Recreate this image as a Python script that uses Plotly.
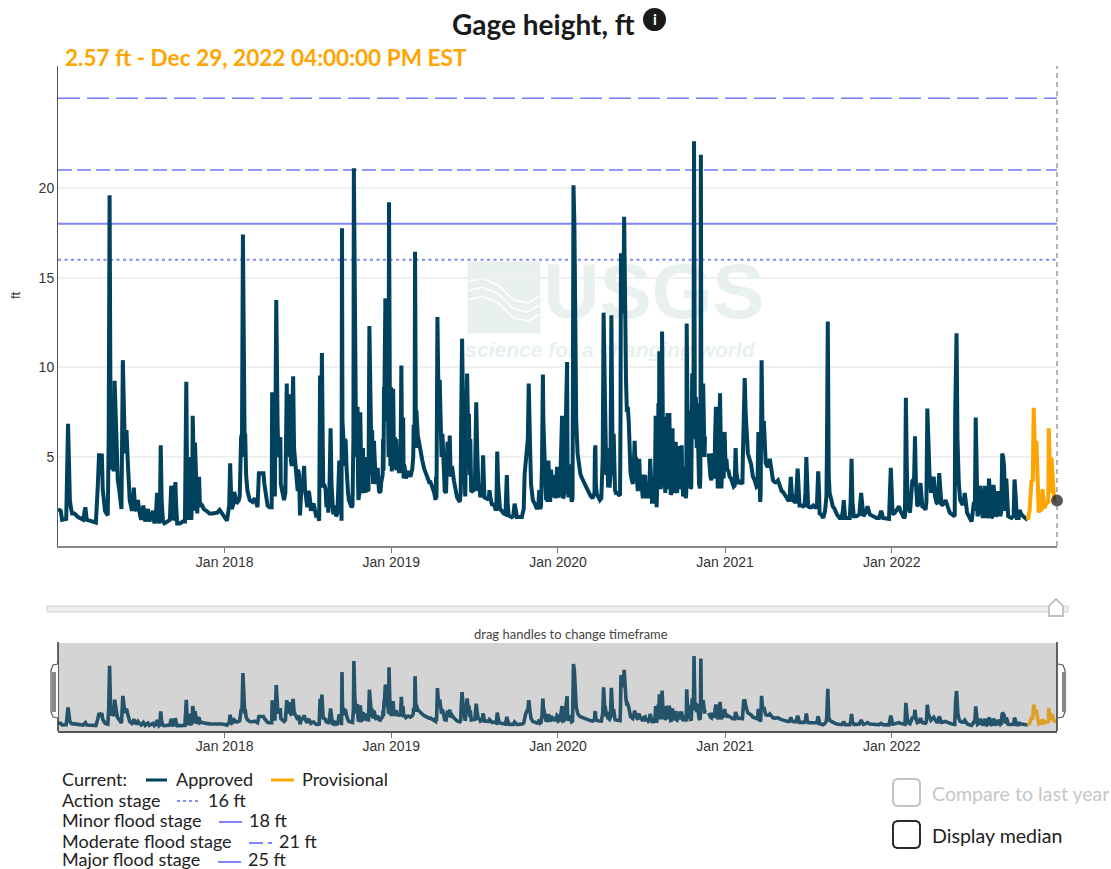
import pandas as pd
import plotly.graph_objects as go

W, H = 1111, 869
START = pd.Timestamp("2017-01-01")

days_a = [0,6,9,18,22,26,31,36,44,55,60,63,73,83,87,90,96,100,106,109,111,113,115,118,124,128,131,139,142,146,152,157,162,166,169,175,182,187,191,197,200,208,211,217,221,225,230,233,241,248,252,257,261,273,281,286,292,295,300,305,309,313,319,332,343,354,365,370,377,381,386,391,401,405,410,415,426]
ft_a = [2.1,2.0,1.5,1.55,6.85,2.6,1.85,1.85,1.65,1.5,2.2,1.5,1.45,1.35,3.3,5.2,5.2,2.6,1.85,1.75,6.1,19.6,7.4,4.3,9.25,5.5,3.7,2.1,10.4,5.9,5.2,2.6,2.0,3.3,2.1,2.6,1.5,2.3,1.4,2.1,1.4,2.0,1.3,3.0,1.3,5.65,1.4,1.3,1.4,3.4,1.5,3.6,1.3,1.4,9.2,1.5,1.5,7.3,5.8,1.85,3.9,2.4,2.1,1.85,1.85,2.05,1.65,1.45,4.65,2.1,3.05,2.4,6.1,17.4,6.3,3.1,2.5]

days_b = [437,440,450,455,459,468,469,473,475,478,481,487,488,495,501,506,510,515,519,523,528,530,534,539,543,550,554,565,572,574,578,581,590,592,597,601,612,616,621,622,625,630,635,643,648,651,656,658,662,667,670,678,682,685,692,696,703,713,714,717,721,725,729,734,738,743,750,752,756,758,765,776,779,782,785,794,802,816,827,828,831,836,842,847,853,858,867]
ft_b = [2.2,4.1,4.1,2.95,2.3,2.2,8.5,8.5,2.8,13.75,6.7,6.1,3.5,2.6,9.1,8.5,4.8,9.5,4.8,3.3,4.0,1.75,3.7,4.5,2.6,3.0,2.0,1.75,1.45,9.55,10.8,3.3,2.8,1.9,6.6,2.0,1.85,4.8,1.45,17.75,6.1,5.9,3.1,2.2,21.1,8.1,7.8,2.6,7.5,3.1,4.8,3.1,12.3,6.7,5.9,3.5,3.1,4.25,8.9,13.85,8.9,19.2,8.9,8.8,6.1,4.25,4.1,10.1,7.2,4.6,4.1,4.35,6.8,16.45,7.6,5.55,4.35,3.6,2.6,3.9,12.8,9.3,6.3,3.1,5.85,6.2,3.7]

days_c = [874,880,885,889,891,896,900,905,910,916,919,925,931,934,943,945,951,958,962,966,976,983,987,994,1000,1005,1013,1020,1022,1027,1031,1034,1038,1049,1054,1058,1062,1065,1069,1074,1080,1084,1093,1096,1104,1107,1111,1115,1118,1125,1129,1133,1138,1144,1155,1166,1171,1177,1180,1187,1195,1199,1204,1208,1212,1217,1220,1231,1233,1236,1240,1244,1248,1252,1257,1263,1268,1273,1279,1286,1293,1297,1304,1309]
ft_c = [2.75,2.5,11.6,7.4,3.5,9.65,7.4,3.05,3.2,8.05,3.3,2.75,5.1,2.75,2.6,3.15,2.3,2.1,5.3,2.2,1.85,4.0,1.75,1.65,2.4,1.65,1.65,2.1,4.05,5.9,9.1,5.5,2.75,2.1,3.15,2.3,9.6,5.5,2.6,4.8,4.3,2.75,4.45,2.75,7.3,2.75,5.55,10.3,2.75,2.5,20.15,10.65,5.2,4.05,3.4,2.85,2.7,5.65,2.95,2.6,13.05,6.7,4.0,3.3,12.9,6.3,3.15,2.85,16.25,16.25,18.4,9.3,7.8,4.6,3.7,5.9,3.7,4.9,3.2,4.0,2.7,4.9,2.5,7.3]

days_d = [1311,1313,1317,1323,1328,1331,1335,1339,1342,1346,1350,1353,1356,1362,1366,1369,1375,1377,1382,1385,1389,1393,1397,1402,1406,1408,1413,1417,1421,1425,1429,1433,1436,1441,1445,1450,1453,1460,1464,1471,1480,1484,1490,1499,1502,1504,1508,1515,1522,1530,1534,1538,1541,1546,1550,1559,1566,1577,1588,1599,1605,1610,1620,1624,1632,1639,1643,1654,1665,1668,1676,1683,1686,1690,1697,1712,1721,1724,1734,1738,1743]
ft_d = [2.2,7.05,10.9,12.0,7.25,3.7,7.45,7.45,2.9,6.6,3.0,5.85,3.0,5.6,5.65,2.8,2.7,12.45,7.6,3.25,9.65,22.6,8.35,4.65,3.25,21.85,9.1,6.15,None,5.2,3.9,5.2,3.8,7.8,3.25,8.55,3.25,6.4,4.9,3.9,3.35,5.5,3.5,3.5,9.3,9.4,6.15,4.85,3.9,3.35,6.4,2.5,10.4,7.0,4.65,4.9,3.7,3.7,3.05,2.6,3.9,2.6,4.35,2.3,2.25,5.0,2.25,2.3,4.2,1.85,1.6,2.8,12.55,3.0,2.25,1.6,2.6,1.6,1.6,4.9,1.7]

days_e = [1749,1759,1764,1773,1778,1793,1803,1807,1820,1824,1828,1836,1842,1847,1853,1857,1861,1866,1871,1877,1882,1889,1893,1900,1904,1909,1918,1924,1930,1935,1944,1953,1964,1965,1968,1971,1976,1986,1991,2001,2006,2010,2014,2020,2025,2030,2035,2039,2044,2049,2054,2059,2064,2068,2072,2077,2081,2088,2095,2100,2106,2113,2124]
ft_e = [1.7,3.0,1.7,2.25,1.8,1.6,2.0,1.6,1.55,4.4,1.8,2.05,2.25,1.9,1.6,8.3,2.25,1.9,3.65,6.15,2.25,3.55,2.25,2.05,7.7,3.9,3.9,2.45,4.1,2.3,2.6,1.9,1.7,7.35,11.9,4.85,2.6,3.0,1.9,1.4,2.5,7.2,1.7,3.4,1.7,3.4,1.6,3.8,1.6,3.45,1.7,3.1,1.7,5.2,4.5,3.8,1.7,1.6,3.75,1.6,2.05,1.7,1.5]

# further readings of the same record, inside the crowded stretches and on the recessions
more_2017 = [(24,3.4),(28,2.2),(88,4.5),(93,4.0),(98,3.2),(103,2.0),(117,5),(120,6.5),(122,4.2),(126,7),(130,4),(134,3.2),(136,2.5),(144,7),(148,5.2),(150,6.5),(154,4),(156,3),(164,2.3),(172,2.0),(178,2.0),(194,1.8),(204,1.7),(214,1.6),(219,1.6),(223,1.6),(227,2.6),(236,1.35),(245,1.5),(250,2.2),(255,1.6),(259,2.2),(267,1.3),(278,1.4),(283,3),(288,5),(290,2),(294,3),(297,5),(299,2),(302,4.5),(304,2.5),(307,3.5),(311,2.2),(316,2.3),(325,2.0),(338,1.85),(349,1.9),(360,1.8),(375,2.3),(379,3),(384,2.4),(389,2.7),(396,2.6),(398,2.8),(403,6.3),(407,6),(409,5),(412,4),(417,2.9),(420,2.6),(431,2.7)]
more_2018 = [(445,4.1),(452,3.5),(463,2.2),(483,5),(485,6),(491,3),(498,3),(503,5),(504,7.5),(508,5.5),(509,7),(512,4.5),(513,7.5),(517,5.5),(521,3.8),(525,3.1),(526,4.3),(532,2.5),(536,3.3),(541,3.2),(546,2.2),(548,3.1),(552,2.6),(557,2.3),(560,2.4),(569,1.8),(576,5),(580,5.5),(583,3.5),(586,3.2),(588,2.2),(594,2.5),(599,3.5),(603,1.8),(606,2.3),(609,1.7),(614,3.1),(618,2),(620,4.8),(623,7),(627,4.5),(629,6),(632,4.4),(633,3.6),(637,2.6),(640,2.4),(645,2.3),(647,6),(650,10),(653,5),(654,7.5),(657,4),(660,3),(661,7.2),(664,4.5),(666,3),(668,5.5),(669,3.5),(672,3),(674,5),(676,3.2),(680,3.1),(684,7.5),(687,4),(688,6.5),(690,3.5),(694,5),(698,3.6),(700,4.4),(706,3),(708,3.6),(711,4),(712,6),(715,8.8),(718,7),(719,8),(722,9),(724,5),(727,7),(728,4.5),(731,4.2),(733,6),(736,4.8),(740,4.3),(741,6),(745,5),(747,4.1),(748,5),(754,4.2),(755,5),(757,3.8),(760,4.3),(762,3.8),(768,4.2),(772,3.9),(778,5),(781,6),(784,5.5),(788,6.2),(791,5.7),(798,4.8),(805,4.1),(810,3.8),(813,3.6),(820,3.3),(824,3),(829,2.7),(834,7),(838,7),(840,5),(844,4.5),(845,3.7),(850,3),(851,5.3),(855,4),(856,5.8),(860,3.9),(863,4.5),(870,3.2)]
more_2019 = [(882,3),(883,7),(887,7.9),(888,6),(892,2.8),(894,6),(898,7),(899,5),(902,4),(903,6),(907,3.1),(913,3.2),(914,5),(918,5.5),(921,3.1),(923,3.5),(927,3),(929,2.9),(933,3.6),(937,2.7),(940,2.7),(948,2.6),(954,2.4),(956,2.2),(960,2.1),(964,3.5),(968,2.1),(972,2),(980,1.8),(985,2.4),(990,1.7),(997,1.7),(1003,2),(1008,1.65),(1016,1.65),(1018,1.9),(1024,4.8),(1029,6),(1032,7),(1036,3.5),(1040,2.6),(1044,2.4),(1052,2.3),(1056,2.1),(1060,4.5),(1063,7),(1067,4),(1071,3),(1072,2.5),(1076,3.2),(1078,2.5),(1082,3.1),(1086,4),(1088,3),(1090,2.7),(1095,4.2),(1099,3),(1101,4.5),(1102,5.5),(1105,4),(1106,2.7),(1109,3),(1113,6),(1116,4.8),(1119,4.6),(1120,3),(1122,4),(1127,2.7),(1128,9),(1131,18),(1135,7),(1140,4.6),(1148,3.8),(1152,3.6),(1160,3.1),(1175,3),(1176,5.4),(1178,3.5),(1183,2.8),(1190,2.7),(1193,5),(1197,7.5),(1201,4),(1202,5.5),(1205,3.3),(1206,3.6),(1210,4),(1214,7),(1215,4),(1218,4.5),(1222,3),(1225,3),(1228,2.9),(1232,7),(1238,13),(1242,11),(1246,7.5),(1250,7),(1254,4.1),(1259,3.5),(1261,4.5),(1265,4.2),(1266,5),(1270,3.1),(1271,4.6),(1275,3.6),(1277,4),(1281,2.7),(1283,3.8),(1288,2.7),(1290,3.6),(1295,3),(1299,3.4),(1301,2.5),(1306,3.5),(1307,2.4)]
more_2020 = [(1312,3),(1314,3.5),(1315,8),(1316,3.2),(1318,5),(1319,10),(1320,3.2),(1321,9),(1322,3.5),(1325,8),(1326,3.3),(1329,6),(1330,3),(1332,6.5),(1333,3.2),(1336,3.6),(1337,7),(1338,3.4),(1340,5),(1344,3),(1345,5),(1347,3),(1348,5.5),(1351,4),(1352,3),(1354,3.2),(1358,3.8),(1359,3.2),(1360,5),(1364,3.2),(1367,4),(1371,3.2),(1373,4.5),(1376,3),(1379,6.5),(1380,3.5),(1383,4.5),(1387,3.3),(1388,5),(1391,8),(1392,9.5),(1394,10),(1395,6),(1399,5.5),(1400,8),(1404,3.5),(1407,4),(1409,8),(1411,8.5),(1415,6.5),(1416,5),(1427,4.1),(1431,3.7),(1435,4.5),(1438,3.8),(1439,6),(1443,5.5),(1444,3.3),(1447,4.3),(1448,7),(1452,5),(1455,4.6),(1458,3.8),(1462,4.5),(1466,4.2),(1468,4.3),(1474,3.8),(1477,3.5),(1482,3.4),(1486,4.1),(1488,3.7),(1493,3.7),(1496,3.6),(1500,5),(1503,7),(1506,7.5),(1511,5.2),(1518,4.6),(1526,3.7),(1532,3.4),(1536,5),(1539,3),(1543,6.5),(1548,5.3),(1553,4.5),(1556,4.5),(1562,4.2),(1570,3.6),(1573,3.6),(1582,3.3),(1585,3.1),(1592,2.9),(1595,2.7),(1602,2.6),(1607,3),(1613,2.5),(1616,2.5),(1622,3),(1628,2.3),(1635,2.3),(1637,3),(1641,3),(1646,2.2),(1650,2.2),(1658,2.2),(1662,2.2),(1667,3),(1671,1.8),(1680,2),(1684,5),(1688,4),(1693,2.7),(1701,2.1),(1706,1.8),(1716,1.6),(1719,2),(1728,1.6),(1736,2.5),(1740,2.5)]
more_2022 = [(1755,1.8),(1762,2),(1769,1.9),(1785,1.7),(1798,1.6),(1813,1.55),(1826,2.2),(1833,1.9),(1845,2),(1851,1.7),(1855,1.7),(1859,4.5),(1875,3.8),(1879,3.5),(1885,2.4),(1897,2.2),(1902,2.5),(1906,5),(1912,3),(1921,2.8),(1927,2.4),(1940,2.4),(1948,2.3),(1958,1.8),(1966,9),(1970,6),(1973,3.5),(1980,2.4),(1983,2.4),(1996,1.6),(2008,2),(2012,3),(2018,2),(2023,2.5),(2028,1.7),(2033,2.3),(2037,1.8),(2042,2.7),(2047,1.7),(2052,2.5),(2057,1.8),(2062,2.3),(2066,2),(2070,5),(2075,2),(2079,3),(2084,1.65),(2093,1.7),(2098,2.6),(2104,1.6),(2110,1.8),(2118,1.6)]
more_provisional = [(2135,3.7),(2139,5.8),(2146,3),(2150,2.1),(2154,2),(2164,2.4),(2169,2.5),(2172,4.95),(2174,3),(2181,2.9)]

provisional_days = [2124,2128,2132,2137,2143,2148,2156,2161,2168,2170,2176,2179,2184,2188]
provisional_ft = [1.5,2.05,3.65,7.75,5.8,1.9,3.2,2.15,2.45,6.6,4.95,3.0,2.6,2.57]

tick_dates = ["2018-01-01", "2019-01-01", "2020-01-01", "2021-01-01", "2022-01-01"]
tick_labels = ["Jan 2018", "Jan 2019", "Jan 2020", "Jan 2021", "Jan 2022"]
y_ticks = [5, 10, 15, 20]
stage_names = ["Action stage", "Minor flood stage", "Moderate flood stage", "Major flood stage"]
stage_ft = [16, 18, 21, 25]

DARK, ORANGE = "#00415e", "#ffa500"
DARK_DIM, ORANGE_DIM = "#24536a", "#dca027"
SANS, AX = "Lato", "Liberation Sans"


def dates(d):
    return START + pd.to_timedelta(d, unit="D")


def px(x):
    return x / W


def py(y):
    return 1 - y / H


def merged(days, ft, more):
    rows = sorted(list(zip(days, ft)) + list(more), key=lambda r: r[0])
    return [r[0] for r in rows], [r[1] for r in rows]


approved_days, approved_ft = merged(days_a + days_b + days_c + days_d + days_e, ft_a + ft_b + ft_c + ft_d + ft_e,
                                    more_2017 + more_2018 + more_2019 + more_2020 + more_2022)
prov_days, prov_ft = merged(provisional_days, provisional_ft, more_provisional)
ax, pv = dates(approved_days), dates(prov_days)
x_range = [START, dates([2188])[0]]

stage_styles = [
    dict(color="#8189ff", width=2, dash="3px,3.5px"),
    dict(color="#7d86ff", width=2),
    dict(color="#8f9aff", width=2, dash="14px,5px"),
    dict(color="#6f7cff", width=1.6, dash="22px,7px"),
]

fig = go.Figure()
# watermark sits under the data
fig.add_trace(go.Scatter(x=dates([1305]), y=[13.85], mode="text", text=["<b>USGS</b>"], hoverinfo="skip",
                         textfont=dict(family="Liberation Sans", size=78, color="#e8f1ee")))
fig.add_trace(go.Scatter(x=dates([1209]), y=[10.85], mode="text", text=["<b><i>science for a changing world</i></b>"],
                         hoverinfo="skip", textfont=dict(family="Liberation Sans", size=21, color="#e8f1ee")))
for name, v, st in zip(stage_names, stage_ft, stage_styles):
    fig.add_trace(go.Scatter(x=x_range, y=[v, v], mode="lines", line=st, name=name))
fig.add_trace(go.Scatter(x=ax, y=approved_ft, mode="lines", line=dict(color=DARK, width=4), name="Approved"))
fig.add_trace(go.Scatter(x=pv, y=prov_ft, mode="lines", line=dict(color=ORANGE, width=4), name="Provisional"))
fig.add_trace(go.Scatter(x=pv[-1:], y=prov_ft[-1:], mode="markers", cliponaxis=False,
                         marker=dict(color="rgba(30,30,30,0.75)", size=12), name="Latest"))
fig.add_trace(go.Scatter(x=ax, y=approved_ft, mode="lines", xaxis="x2", yaxis="y2",
                         line=dict(color=DARK_DIM, width=3.6), name="Approved overview"))
fig.add_trace(go.Scatter(x=pv, y=prov_ft, mode="lines", xaxis="x2", yaxis="y2",
                         line=dict(color=ORANGE_DIM, width=3.6), name="Provisional overview"))

shapes = []


def rect(x0, y0, x1, y1, fill="rgba(0,0,0,0)", line="rgba(0,0,0,0)", lw=1):
    shapes.append(dict(type="rect", xref="paper", yref="paper", x0=px(x0), x1=px(x1), y0=py(y0), y1=py(y1),
                       fillcolor=fill, line=dict(color=line, width=lw)))


def path(points, fill="rgba(0,0,0,0)", line="#999", lw=1, layer="above", close=False):
    d = "M " + " L ".join(f"{px(a):.5f},{py(b):.5f}" for a, b in points) + (" Z" if close else "")
    shapes.append(dict(type="path", xref="paper", yref="paper", path=d, fillcolor=fill, layer=layer,
                       line=dict(color=line, width=lw)))


def rounded(x0, y0, x1, y1, r, line, lw):
    pts = [(x0 + r, y0), (x1 - r, y0), (x1 - r * .3, y0 + r * .3), (x1, y0 + r), (x1, y1 - r), (x1 - r * .3, y1 - r * .3),
           (x1 - r, y1), (x0 + r, y1), (x0 + r * .3, y1 - r * .3), (x0, y1 - r), (x0, y0 + r), (x0 + r * .3, y0 + r * .3)]
    path(pts, fill="white", line=line, lw=lw, close=True)


# overview background and right-hand cursor
shapes.append(dict(type="rect", xref="x2 domain", yref="y2 domain", x0=0, x1=1, y0=0, y1=1, layer="below",
                   fillcolor="#d4d4d4", line=dict(width=0)))
shapes.append(dict(type="line", xref="x domain", yref="y domain", x0=1, x1=1, y0=0, y1=1,
                   line=dict(color="#666", width=1, dash="5px,4px")))
shapes.append(dict(type="line", xref="x2 domain", yref="y2 domain", x0=1, x1=1, y0=0, y1=1.01,
                   line=dict(color="#333", width=1.5)))
shapes.append(dict(type="line", xref="x2 domain", yref="y2 domain", x0=0, x1=0, y0=0, y1=1.01,
                   line=dict(color="#333", width=1.5)))

# USGS logo block behind the data
path([(468, 262), (540, 262), (540, 333), (468, 333)], fill="#e8f1ee", line="#e8f1ee", layer="below", close=True)
for off in (0, 9, 18):
    path([(468, 282 + off), (482, 278 + off), (498, 285 + off), (514, 300 + off), (528, 303 + off), (540, 296 + off)],
         line="white", lw=1.6, layer="below")

# slider
rect(47, 606, 1068, 612, fill="#eeeeee", line="#d0d0d0", lw=1)
path([(1049, 606), (1056, 599), (1063, 606), (1063, 616), (1049, 616)], fill="white", line="#aaaaaa", lw=1.3, close=True)

# overview handles
for a, b, c in ((58, 51, 54), (1058, 1065, 1062)):
    path([(a, 664), (b + (a - b) * .3, 665), (b, 670), (b, 712), (b + (a - b) * .3, 717), (a, 718)],
         fill="white", line="#555", lw=1.2)
    rect(min(b + (c - b) * .3, c), 672, max(b + (c - b) * .3, c) + 2, 712, fill="#888888")

# info icon
shapes.append(dict(type="circle", xref="paper", yref="paper", x0=px(643), x1=px(666), y0=py(8), y1=py(31),
                   fillcolor="#1a1a1a", line=dict(width=0)))

# legend keys
for x0, x1, yy, st in (
    (146, 167, 780, dict(color=DARK, width=3)),
    (271, 294, 780, dict(color=ORANGE, width=3)),
    (177, 200, 801, dict(color="#8189ff", width=2, dash="3px,3px")),
    (219, 242, 822, dict(color="#7d86ff", width=2)),
    (249, 272, 843, dict(color="#7d86ff", width=2, dash="14px,5px")),
    (218, 241, 862, dict(color="#7d86ff", width=2)),
):
    shapes.append(dict(type="line", xref="paper", yref="paper", x0=px(x0), x1=px(x1), y0=py(yy), y1=py(yy), line=st))

# checkboxes
rounded(893, 779, 920, 806, 4, "#c4c4c4", 2)
rounded(893, 821, 920, 848, 4, "#2b2b2b", 2)

annotations = []


def label(x, y, text, size=18, color="#222", anchor="left", family=SANS, **kw):
    annotations.append(dict(x=px(x), y=py(y), xref="paper", yref="paper", text=text, showarrow=False, xanchor=anchor,
                            yanchor="middle", align="left", font=dict(family=family, size=size, color=color), **kw))


label(543, 24, "<b>Gage height, ft</b>", size=28, color="#1a1a1a", anchor="center")
label(654.5, 19, "<b>i</b>", size=15, color="white", anchor="center")
label(63, 58, "<b>2.57 ft - Dec 29, 2022 04:00:00 PM EST</b>", size=22.6, color=ORANGE)
label(16, 295, "ft", size=13, color="#333", anchor="center", family=AX, textangle=-90)
label(571, 634, "drag handles to change timeframe", size=13, color="#444", anchor="center")
label(60, 779, "Current:")
label(174, 779, "Approved")
label(300, 779, "Provisional")
for x_name, yy, name, x_val, v in (
    (60, 800, stage_names[0], 206, stage_ft[0]),
    (60, 820, stage_names[1], 247, stage_ft[1]),
    (60, 841, stage_names[2], 277, stage_ft[2]),
    (60, 859, stage_names[3], 246, stage_ft[3]),
):
    label(x_name, yy, name)
    label(x_val, yy, f"{v} ft")
label(930, 793, "Compare to last year", size=19.6, color="#c6c6c6")
label(930, 835, "Display median", size=19.6)

tickfont = dict(family=AX, size=14, color="#333")
fig.update_layout(
    width=W, height=H, margin=dict(l=0, r=0, t=0, b=0), showlegend=False, hovermode=False,
    paper_bgcolor="white", plot_bgcolor="white", shapes=shapes, annotations=annotations,
    xaxis=dict(domain=[px(58), px(1057)], range=x_range, tickmode="array", tickvals=tick_dates, ticktext=tick_labels,
               ticks="outside", ticklen=5, tickcolor="#777", showgrid=False, showline=True, linecolor="#888",
               linewidth=2, tickfont=tickfont, anchor="y", zeroline=False, ticklabelstandoff=-3),
    yaxis=dict(domain=[py(546), py(66)], range=[0.04, 26.8], tickmode="array", tickvals=y_ticks, ticks="",
               showgrid=True, gridcolor="#f0f0f0", gridwidth=2, showline=True, linecolor="#555", linewidth=1,
               tickfont=tickfont, zeroline=False, anchor="x"),
    xaxis2=dict(domain=[px(58), px(1057)], range=x_range, tickmode="array", tickvals=tick_dates, ticktext=tick_labels,
                ticks="outside", ticklen=5, tickcolor="#777", showgrid=False, showline=True, linecolor="#555",
                linewidth=1.5, tickfont=tickfont, anchor="y2", zeroline=False, ticklabelstandoff=-4),
    yaxis2=dict(domain=[py(731), py(643)], range=[-0.33, 26.6], showticklabels=False, ticks="", showgrid=False,
                zeroline=False, showline=False, anchor="x2"),
)

fig.write_html("out.html", config=dict(displayModeBar=False),
               post_script="document.body.style.margin='0';document.body.style.overflow='hidden';")
